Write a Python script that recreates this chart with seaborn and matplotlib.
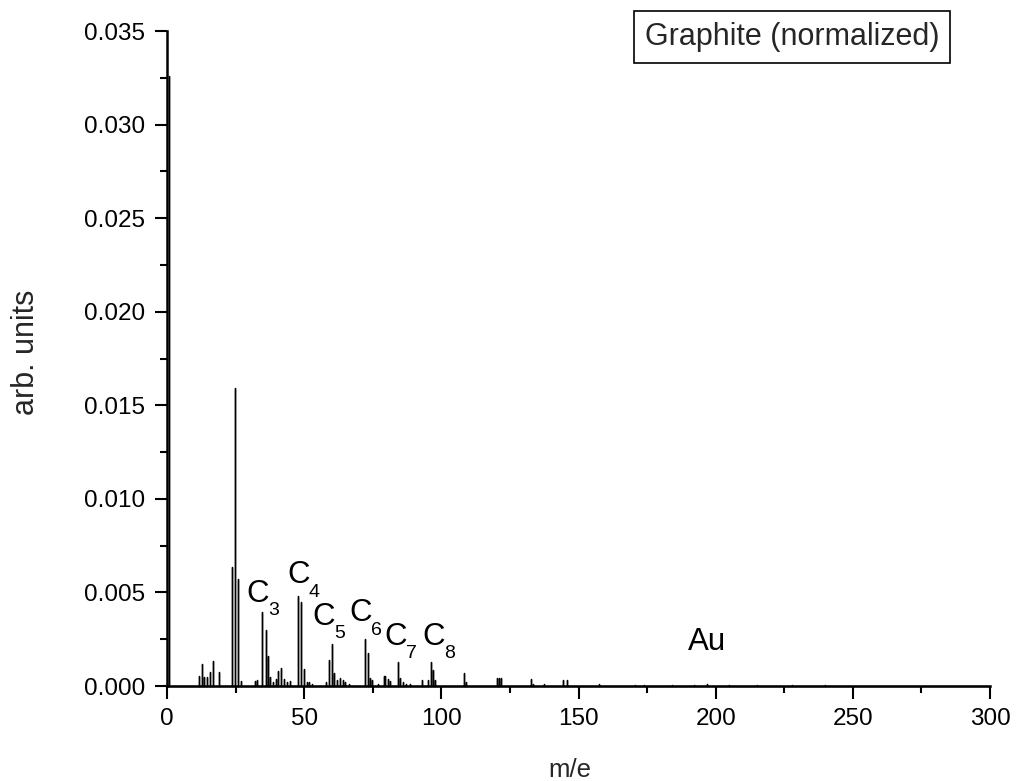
import matplotlib
matplotlib.use("Agg")
import matplotlib.pyplot as plt
from matplotlib.ticker import MultipleLocator, FormatStrFormatter
import seaborn as sns
import pandas as pd

# ---- data ----
mz = [0.7, 11.8, 12.8, 13.5, 14.6, 15.7, 16.8, 18.8,
      23.8, 24.6, 25.7, 26.8, 32.1, 32.7,
      34.8, 35.9, 36.7, 37.7, 38.8, 39.7, 40.6, 41.7, 42.8, 43.9, 44.9,
      47.8, 48.9, 49.9, 50.9, 51.8, 52.8,
      57.9, 58.9, 60.0, 61.0, 61.8, 63.0, 64.0, 65.0, 66.5,
      72.1, 73.2, 74.0, 74.8, 76.8, 79.0, 79.6, 80.5, 81.3,
      84.2, 85.1, 86.0, 87.2, 88.4,
      93.0, 95.1, 96.2, 97.1, 97.8,
      108.3, 109.1, 120.4, 121.0, 121.6, 132.6, 133.3, 137.6,
      144.4, 145.7, 157.3, 170.5, 174.0, 184.0, 192.0, 197.0,
      205.0, 215.0, 228.0, 240.0, 252.0, 265.0, 280.0]
intensity = [0.0326, 0.00053, 0.00118, 0.00046, 0.00046, 0.00073, 0.00132, 0.00077,
             0.00637, 0.0159, 0.00572, 0.00027, 0.00027, 0.00032,
             0.00394, 0.00299, 0.00162, 0.0005, 0.0002, 0.00037, 0.0008, 0.00098, 0.00037, 0.0002, 0.00025,
             0.00481, 0.0045, 0.00089, 0.0002, 0.0002, 0.0001,
             0.0002, 0.00139, 0.00224, 0.00068, 0.0003, 0.00043, 0.0003, 0.0002, 0.0001,
             0.00249, 0.00175, 0.00041, 0.0003, 0.0001, 0.00052, 0.00052, 0.00039, 0.00028,
             0.0013, 0.00041, 0.0002, 0.0001, 0.0001,
             0.00032, 0.0003, 0.00128, 0.00085, 0.0003,
             0.00068, 0.0002, 0.00045, 0.00045, 0.00045, 0.00036, 0.0001, 0.0001,
             0.00032, 0.00032, 0.0001, 0.00006, 0.00005, 0.00003, 0.00004, 0.0001,
             0.00003, 0.00003, 0.00003, 0.00003, 0.00002, 0.00002, 0.00002]

label_base = ["C", "C", "C", "C", "C", "C", "Au"]
label_sub = ["3", "4", "5", "6", "7", "8", ""]
label_x = [29.0, 43.9, 53.1, 66.4, 79.3, 93.0, 190.0]
label_y = [0.00449, 0.00549, 0.00326, 0.00345, 0.00219, 0.00219, 0.00192]

legend_text = "Graphite (normalized)"
x_label = "m/e"
y_label = "arb. units"

# ---- build a stick-spectrum table (each peak: baseline -> top -> baseline) ----
xs, ys = [], []
for m, h in zip(mz, intensity):
    xs += [m, m, m]
    ys += [0.0, h, 0.0]
xs = [0.0] + xs + [300.0]
ys = [0.0] + ys + [0.0]
df = pd.DataFrame({"m/e": xs, "arb": ys})

sns.set_theme(style="ticks")
plt.rcParams["font.family"] = ["Liberation Sans", "DejaVu Sans"]

fig = plt.figure(figsize=(10.16, 7.81), dpi=100)
ax = fig.add_axes([0.1644, 0.1216, 0.81, 0.8387])

sns.lineplot(data=df, x="m/e", y="arb", sort=False, estimator=None,
             color="black", lw=1.0, ax=ax, clip_on=False)

ax.set_xlim(0, 300)
ax.set_ylim(0, 0.035)
sns.despine(ax=ax)
for s in ["left", "bottom"]:
    ax.spines[s].set_linewidth(1.8)
    ax.spines[s].set_color("black")

ax.xaxis.set_major_locator(MultipleLocator(50))
ax.xaxis.set_minor_locator(MultipleLocator(25))
ax.yaxis.set_major_locator(MultipleLocator(0.005))
ax.yaxis.set_minor_locator(MultipleLocator(0.0025))
ax.yaxis.set_major_formatter(FormatStrFormatter("%.3f"))
ax.tick_params(which="major", direction="out", length=9, width=1.5,
               labelsize=17.5, pad=7, colors="black")
ax.tick_params(which="minor", direction="out", length=5, width=1.5, colors="black")

ax.set_xlabel(x_label, fontsize=18.5)
ax.set_ylabel(y_label, fontsize=22)
ax.xaxis.set_label_coords(0.49, -0.11)
ax.xaxis.label.set_va("top")
ax.yaxis.set_label_coords(-0.153, 0.51)

for base, sub, lx, ly in zip(label_base, label_sub, label_x, label_y):
    ax.text(lx, ly, base, fontsize=22.5, ha="left", va="baseline", color="black")
    if sub:
        ax.annotate(sub, xy=(lx, ly), xytext=(15.5, -9.6), textcoords="offset points",
                    fontsize=14, ha="left", va="baseline", color="black")

fig.text(0.7795, 0.953, legend_text, fontsize=22, ha="center", va="center",
         bbox=dict(boxstyle="square,pad=0.36", fc="white", ec="black", lw=1.2))

fig.savefig("out.png", dpi=100, facecolor="white")
